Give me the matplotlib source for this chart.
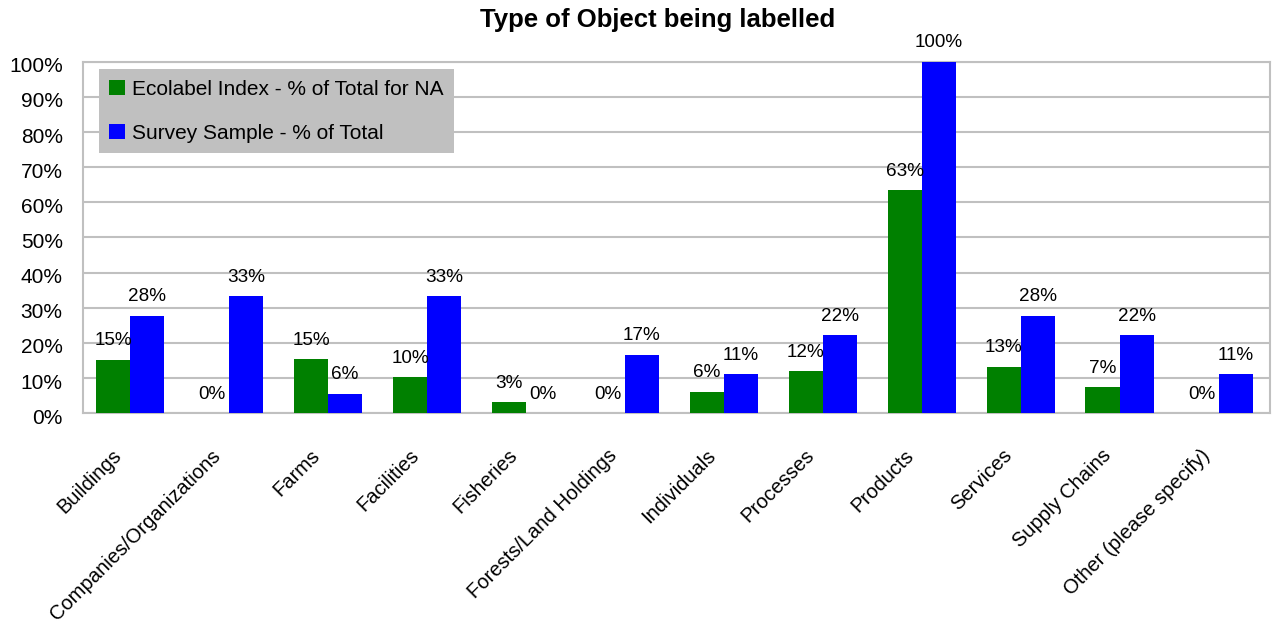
import numpy as np
import matplotlib
matplotlib.use("Agg")
import matplotlib.pyplot as plt
from matplotlib.transforms import ScaledTranslation

plt.rcParams['font.family'] = ['Liberation Sans', 'DejaVu Sans']

# data
categories = ["Buildings", "Companies/Organizations", "Farms", "Facilities",
              "Fisheries", "Forests/Land Holdings", "Individuals", "Processes",
              "Products", "Services", "Supply Chains", "Other (please specify)"]
ecolabel = [15.2, 0, 15.4, 10.3, 3.1, 0, 6.2, 11.9, 63.4, 13.3, 7.4, 0]
survey = [27.8, 33.3, 5.6, 33.3, 0, 16.7, 11.1, 22.2, 100, 27.8, 22.2, 11.1]
series_names = ["Ecolabel Index - % of Total for NA", "Survey Sample - % of Total"]
yticks = list(range(0, 101, 10))

green = "#008000"
blue = "#0000FF"
gridc = "#C0C0C0"

fig = plt.figure(figsize=(12.77, 6.26), dpi=100)
W, H = 1277, 626
ax = fig.add_axes([82.7 / W, 1 - 413.3 / H, (1270 - 82.7) / W, (413.3 - 61.7) / H])

x = np.arange(len(categories))
bw = 0.345
b1 = ax.bar(x - bw / 2 - 0.02, ecolabel, bw, color=green, linewidth=0, label=series_names[0], zorder=3)
b2 = ax.bar(x + bw / 2 - 0.02, survey, bw, color=blue, linewidth=0, label=series_names[1], zorder=3)

for bars, vals in ((b1, ecolabel), (b2, survey)):
    for r, v in zip(bars, vals):
        ax.annotate("%.0f%%" % v, (r.get_x() + r.get_width() / 2, v),
                    xytext=(0, 10.5), textcoords="offset points",
                    ha="center", va="baseline", fontsize=13.6, zorder=4)

ax.set_xlim(-0.5, len(categories) - 0.5)
ax.set_ylim(0, 100)
ax.set_yticks(yticks)
ax.set_yticklabels(["%d%%" % t for t in yticks], fontsize=15)
ax.yaxis.grid(True, color=gridc, linewidth=1.5, zorder=0)
ax.tick_params(axis="y", length=0, pad=14.4)
ax.tick_params(axis="x", length=0, pad=23.5)
for s in ax.spines.values():
    s.set_color(gridc)
    s.set_linewidth(1.5)

# nudge y labels slightly down like the original
dy = ScaledTranslation(0, -3 / 100, fig.dpi_scale_trans)
for lab in ax.get_yticklabels():
    lab.set_transform(lab.get_transform() + dy)

ax.set_xticks(x)
ax.set_xticklabels(categories, fontsize=14.5, rotation=45, ha="right", va="top",
                   rotation_mode="anchor")
dx = ScaledTranslation(-20 / 100, 0, fig.dpi_scale_trans)
for lab in ax.get_xticklabels():
    lab.set_transform(lab.get_transform() + dx)

leg = ax.legend(loc="upper left", bbox_to_anchor=(0.0137, 0.979), fontsize=15,
                frameon=True, facecolor="#C0C0C0", edgecolor="none", framealpha=1,
                fancybox=False, handlelength=0.77, handleheight=0.77,
                handletextpad=0.3, labelspacing=1.2, borderpad=0.5,
                borderaxespad=0)
leg.set_zorder(5)

fig.text(657.5 / W, 1 - 26.7 / H, "Type of Object being labelled", ha="center",
         va="baseline", fontsize=18.5, fontweight="bold")

fig.savefig("out.png", dpi=100)
